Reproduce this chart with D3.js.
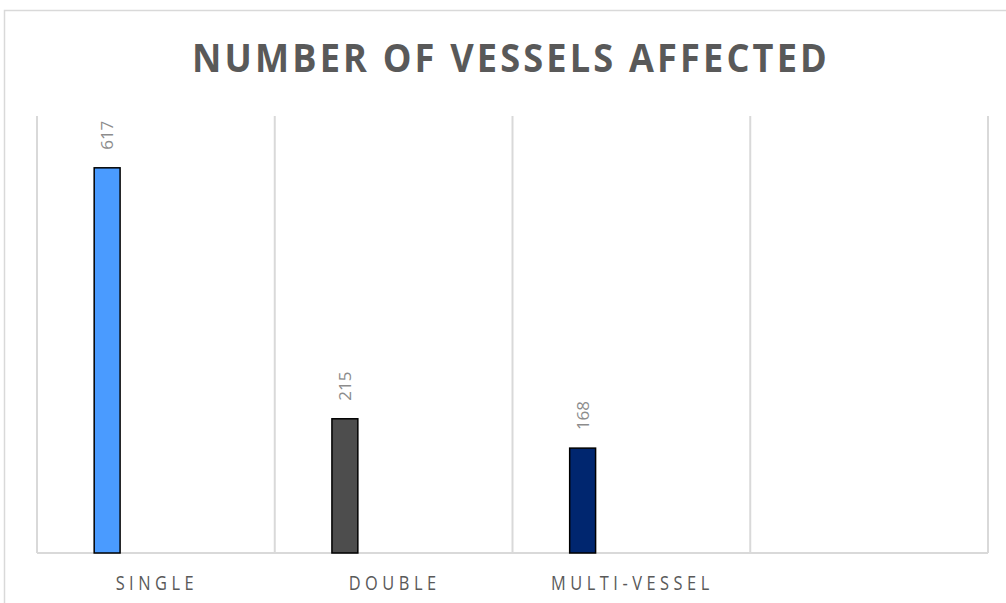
<!DOCTYPE html>
<html><head><meta charset="utf-8">
<script src="https://cdn.jsdelivr.net/npm/d3@7"></script>
<style>html,body{margin:0;padding:0;background:#fff;}svg{display:block;}</style>
</head><body>
<svg id="chart" width="1006" height="603"></svg>
<script>
const title = "NUMBER OF VESSELS AFFECTED";
const categories = ["SINGLE", "DOUBLE", "MULTI-VESSEL", ""];
const values = [617, 215, 168, null];
const colors = ["#4A9BFF", "#4D4D4D", "#00266F", "none"];
const yDomain = [0, 700];

const svg = d3.select("#chart");
const W = 1006, H = 603;
const plot = {left: 37, right: 988, top: 116, bottom: 553};

// outer border
svg.append("path").attr("d", `M4.5,${H} L4.5,10.5 L${W},10.5`)
  .attr("fill", "none").attr("stroke", "#d9d9d9").attr("stroke-width", 1.5);

const x = d3.scaleBand().domain(categories).range([plot.left, plot.right]).padding(0);
const y = d3.scaleLinear().domain(yDomain).range([plot.bottom, plot.top]);

// vertical gridlines at band edges
const edges = categories.map(c => x(c)).concat([plot.right]);
svg.append("g").selectAll("line").data(edges).join("line")
  .attr("x1", d => d).attr("x2", d => d)
  .attr("y1", plot.top).attr("y2", plot.bottom)
  .attr("stroke", "#d9d9d9").attr("stroke-width", 2);

// baseline
svg.append("line").attr("x1", plot.left).attr("x2", plot.right)
  .attr("y1", plot.bottom).attr("y2", plot.bottom)
  .attr("stroke", "#d9d9d9").attr("stroke-width", 2);

// bars
const barOff = 0.2405, barW = 0.109;
const data = categories.map((c, i) => ({c, v: values[i], col: colors[i]})).filter(d => d.v != null);
svg.append("g").selectAll("rect").data(data).join("rect")
  .attr("x", d => x(d.c) + x.bandwidth() * barOff)
  .attr("width", x.bandwidth() * barW)
  .attr("y", d => y(d.v))
  .attr("height", d => y(0) - y(d.v))
  .attr("fill", d => d.col)
  .attr("stroke", "#000").attr("stroke-width", 1.5);

// value labels (rotated)
svg.append("g").selectAll("text").data(data).join("text")
  .attr("transform", d => `translate(${x(d.c) + x.bandwidth() * (barOff + barW / 2) + 6},${y(d.v) - 18}) rotate(-90)`)
  .attr("text-anchor", "start")
  .attr("font-family", "Open Sans, sans-serif")
  .attr("font-size", 17)
  .attr("fill", "#8c8c8c")
  .text(d => d.v);

// category labels (horizontally condensed)
svg.append("g").selectAll("text").data(categories.filter(c => c)).join("text")
  .attr("transform", d => `translate(${x(d) + x.bandwidth() / 2 + 1},590) scale(0.82,1)`)
  .attr("text-anchor", "middle")
  .attr("font-family", "Open Sans, sans-serif")
  .attr("font-size", 20)
  .attr("letter-spacing", "5.5px")
  .attr("fill", "#595959")
  .text(d => d);

// title
svg.append("text")
  .attr("x", 192).attr("y", 72)
  .attr("textLength", 638).attr("lengthAdjust", "spacingAndGlyphs")
  .attr("font-family", "Open Sans, sans-serif")
  .attr("font-weight", "bold")
  .attr("font-size", 40)
  .attr("letter-spacing", "3.5px")
  .attr("fill", "#595959")
  .text(title);
</script>
</body></html>
